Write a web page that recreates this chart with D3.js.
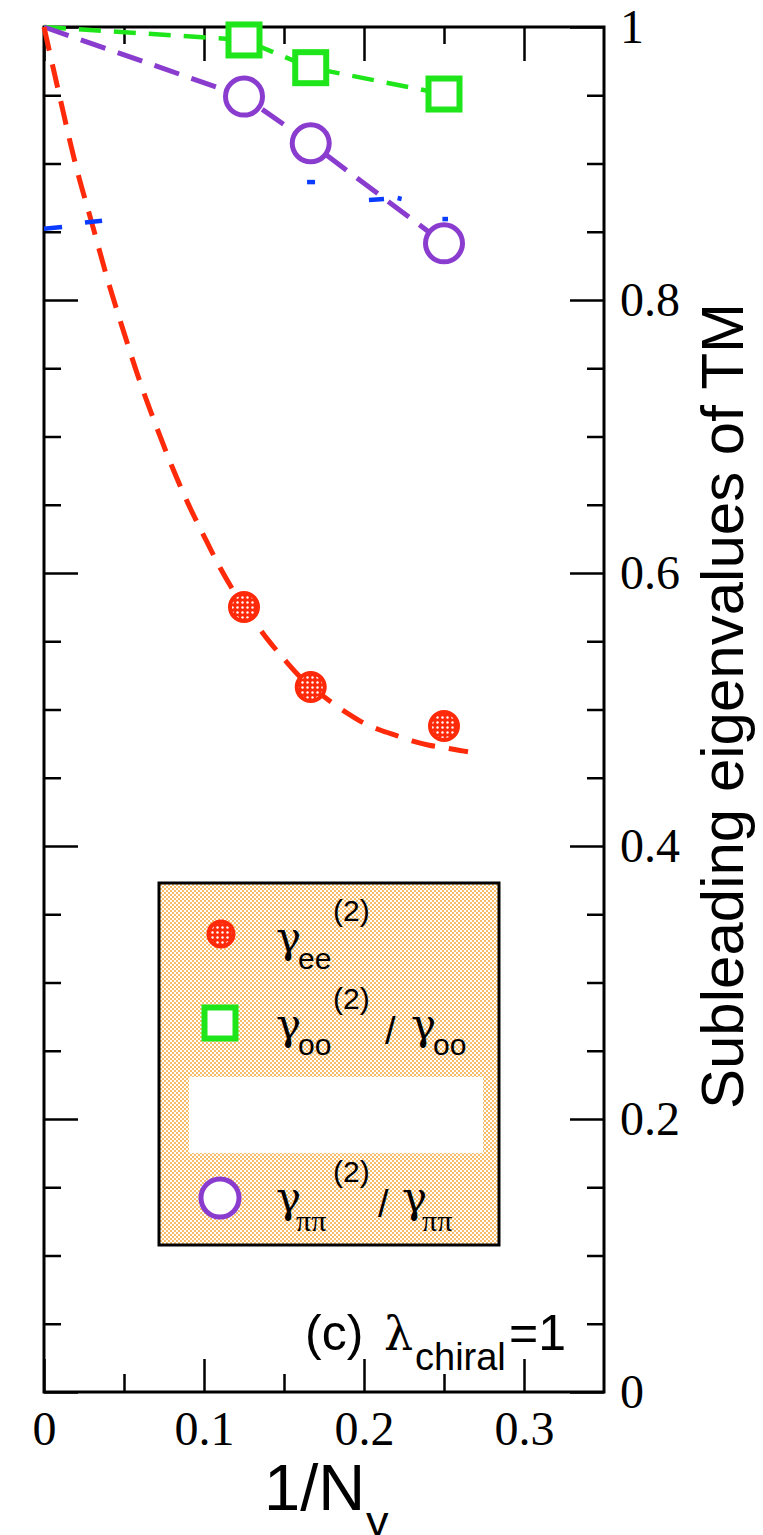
<!DOCTYPE html>
<html>
<head>
<meta charset="utf-8">
<script src="https://cdn.jsdelivr.net/npm/d3@7"></script>
<style>
  html, body { margin: 0; padding: 0; background: #fff; }
  svg { display: block; }
</style>
</head>
<body>
<svg id="chart" width="763" height="1535"></svg>
<script>
// ---------------- data ----------------
const nyInv = [0.125, 0.1667, 0.25];               // 1/N_y of the data points
const gammaEE = [0.5751, 0.5165, 0.4879];          // red filled circles
const gammaOO = [0.9905, 0.9702, 0.9509];          // green squares
const gammaPP = [0.949, 0.9148, 0.8415];           // purple circles

// dashed guide lines (start at 1/N_y = 0, value 1)
const ooLineX = [0, 0.125, 0.1667, 0.25];
const ooLineY = [1, 0.9905, 0.9702, 0.9509];
const ppLineX = [0, 0.125, 0.1667, 0.25];
const ppLineY = [1, 0.949, 0.9148, 0.8415];

// red dashed fit curve
const eeFitX = [0, 0.01, 0.02, 0.03, 0.04, 0.05, 0.06, 0.07, 0.08, 0.09, 0.10, 0.11, 0.12, 0.13,
                0.14, 0.15, 0.16, 0.17, 0.18, 0.19, 0.20, 0.21, 0.22, 0.23, 0.24, 0.25, 0.26, 0.265];
const eeFitY = [1.0, 0.948, 0.898, 0.856, 0.814, 0.776, 0.740, 0.708, 0.678, 0.651, 0.627, 0.604, 0.584, 0.567,
                0.551, 0.537, 0.524, 0.514, 0.505, 0.497, 0.490, 0.485, 0.481, 0.477, 0.474, 0.472, 0.470, 0.469];

// remaining visible pieces of the (masked) blue curve: [x1, y1, x2, y2]
const blueBits = [
  [0.0,    0.8522, 0.0113, 0.8535],
  [0.0256, 0.8568, 0.0363, 0.8581],
  [0.1644, 0.8864, 0.1694, 0.8864],
  [0.2031, 0.8733, 0.2125, 0.8740],
  [0.2210, 0.8747, 0.2235, 0.8740],
  [0.2490, 0.8593, 0.2525, 0.8593]
];

const xMajor = [0, 0.1, 0.2, 0.3];
const xMajorLabels = ["0", "0.1", "0.2", "0.3"];
const xMinor = [0.05, 0.15, 0.25];
const yMajor = [0, 0.2, 0.4, 0.6, 0.8, 1];
const yMajorLabels = ["0", "0.2", "0.4", "0.6", "0.8", "1"];
const yMinor = [0.05, 0.1, 0.15, 0.25, 0.3, 0.35, 0.45, 0.5, 0.55, 0.65, 0.7, 0.75, 0.85, 0.9, 0.95];

// ---------------- drawing ----------------
const svg = d3.select("#chart");
const L = 44, R = 604, T = 27, B = 1392;
const x = d3.scaleLinear().domain([0, 0.35]).range([L, R]);
const y = d3.scaleLinear().domain([0, 1]).range([B, T]);

const RED = "#ff2a0a", GREEN = "#1fe61a", PURPLE = "#8a3ccf", BLUE = "#0a3cff";

const defs = svg.append("defs");
const pRed = defs.append("pattern").attr("id", "redDots").attr("patternUnits", "userSpaceOnUse")
  .attr("width", 5).attr("height", 5);
pRed.append("rect").attr("width", 5).attr("height", 5).attr("fill", RED);
pRed.append("circle").attr("cx", 2.5).attr("cy", 2.5).attr("r", 1.2).attr("fill", "#fff");

const pOr = defs.append("pattern").attr("id", "orDots").attr("patternUnits", "userSpaceOnUse")
  .attr("width", 4).attr("height", 4);
pOr.append("rect").attr("width", 4).attr("height", 4).attr("fill", "#fff");
pOr.append("circle").attr("cx", 1).attr("cy", 1).attr("r", 0.95).attr("fill", "#f5a02a");
pOr.append("circle").attr("cx", 3).attr("cy", 3).attr("r", 0.95).attr("fill", "#f5a02a");

// axes (ticks inward on all four sides)
function styleAxis(g) {
  g.select(".domain").remove();
  g.selectAll(".tick line").attr("stroke", "#000").attr("stroke-width", 2.5);
  g.selectAll("text").attr("fill", "#000").attr("font-family", "'Liberation Serif', 'Times New Roman', serif").attr("font-size", 48);
}
svg.append("g").attr("transform", `translate(0,${B})`)
  .call(d3.axisBottom(x).tickValues(xMajor).tickSize(-33).tickPadding(19).tickFormat((d, i) => xMajorLabels[i]))
  .call(styleAxis);
svg.append("g").attr("transform", `translate(0,${B})`)
  .call(d3.axisBottom(x).tickValues(xMinor).tickSize(-18).tickFormat(""))
  .call(styleAxis);
svg.append("g").attr("transform", `translate(0,${T})`)
  .call(d3.axisTop(x).tickValues(xMajor).tickSize(-34).tickFormat(""))
  .call(styleAxis);
svg.append("g").attr("transform", `translate(0,${T})`)
  .call(d3.axisTop(x).tickValues(xMinor).tickSize(-17).tickFormat(""))
  .call(styleAxis);
svg.append("g").attr("transform", `translate(${R},0)`)
  .call(d3.axisRight(y).tickValues(yMajor).tickSize(-34).tickPadding(16).tickFormat((d, i) => yMajorLabels[i]))
  .call(styleAxis);
svg.append("g").attr("transform", `translate(${R},0)`)
  .call(d3.axisRight(y).tickValues(yMinor).tickSize(-17).tickFormat(""))
  .call(styleAxis);
svg.append("g").attr("transform", `translate(${L},0)`)
  .call(d3.axisLeft(y).tickValues(yMajor).tickSize(-34).tickFormat(""))
  .call(styleAxis);
svg.append("g").attr("transform", `translate(${L},0)`)
  .call(d3.axisLeft(y).tickValues(yMinor).tickSize(-17).tickFormat(""))
  .call(styleAxis);

svg.append("rect").attr("x", L).attr("y", T).attr("width", R - L).attr("height", B - T)
  .attr("fill", "none").attr("stroke", "#000").attr("stroke-width", 3);

// lines
const line = d3.line().x(d => x(d[0])).y(d => y(d[1]));
const linesG = svg.append("g");
linesG.append("path").datum(ooLineX.map((v, i) => [v, ooLineY[i]]))
  .attr("d", line).attr("fill", "none").attr("stroke", GREEN).attr("stroke-width", 4.5)
  .attr("stroke-dasharray", "22,13");
linesG.append("path").datum(ppLineX.map((v, i) => [v, ppLineY[i]]))
  .attr("d", line).attr("fill", "none").attr("stroke", PURPLE).attr("stroke-width", 5)
  .attr("stroke-dasharray", "26,13");
linesG.append("path").datum(eeFitX.map((v, i) => [v, eeFitY[i]]))
  .attr("d", d3.line().curve(d3.curveMonotoneX).x(d => x(d[0])).y(d => y(d[1])))
  .attr("fill", "none").attr("stroke", RED).attr("stroke-width", 5)
  .attr("stroke-dasharray", "24,14");
linesG.selectAll("line.blue").data(blueBits).join("line").attr("class", "blue")
  .attr("x1", d => x(d[0])).attr("y1", d => y(d[1]))
  .attr("x2", d => x(d[2])).attr("y2", d => y(d[3]))
  .attr("stroke", BLUE).attr("stroke-width", 4.5);

// markers
const mk = svg.append("g");
mk.selectAll("rect.oo").data(nyInv).join("rect").attr("class", "oo")
  .attr("x", (d) => x(d) - 15.5).attr("y", (d, i) => y(gammaOO[i]) - 15.5)
  .attr("width", 31).attr("height", 31)
  .attr("fill", "#fff").attr("stroke", GREEN).attr("stroke-width", 6);
mk.selectAll("circle.pp").data(nyInv).join("circle").attr("class", "pp")
  .attr("cx", d => x(d)).attr("cy", (d, i) => y(gammaPP[i])).attr("r", 18.5)
  .attr("fill", "#fff").attr("stroke", PURPLE).attr("stroke-width", 5);
mk.selectAll("circle.ee").data(nyInv).join("circle").attr("class", "ee")
  .attr("cx", d => x(d)).attr("cy", (d, i) => y(gammaEE[i])).attr("r", 14)
  .attr("fill", "url(#redDots)").attr("stroke", RED).attr("stroke-width", 4);

// legend
const lg = svg.append("g");
lg.append("rect").attr("x", 159).attr("y", 883).attr("width", 340).attr("height", 362)
  .attr("fill", "url(#orDots)").attr("stroke", "#000").attr("stroke-width", 3);
lg.append("rect").attr("x", 189).attr("y", 1077).attr("width", 294).attr("height", 76).attr("fill", "#fff");

lg.append("circle").attr("cx", 221).attr("cy", 934).attr("r", 12.5)
  .attr("fill", "url(#redDots)").attr("stroke", RED).attr("stroke-width", 4);
lg.append("rect").attr("x", 204.5).attr("y", 1007.5).attr("width", 31).attr("height", 31)
  .attr("fill", "#fff").attr("stroke", GREEN).attr("stroke-width", 6);
lg.append("circle").attr("cx", 220).attr("cy", 1198).attr("r", 19)
  .attr("fill", "#fff").attr("stroke", PURPLE).attr("stroke-width", 5);

const SERIF = "'Liberation Serif', 'Times New Roman', serif";
const GREEK = "'DejaVu Serif', 'Liberation Serif', serif";
const SANS = "'Liberation Sans', Arial, sans-serif";
function txt(t, px, py, size, fam) {
  return svg.append("text").attr("x", px).attr("y", py).attr("font-size", size)
    .attr("font-family", fam).attr("fill", "#000").text(t);
}
// row 1
txt("γ", 276, 952, 42, GREEK);
txt("ee", 298, 969, 30, SANS);
txt("(2)", 333, 921, 30, SANS);
// row 2
txt("γ", 276, 1039, 42, GREEK);
txt("oo", 298, 1055, 30, SANS);
txt("(2)", 333, 1009, 30, SANS);
txt("/", 385, 1044, 38, SANS);
txt("γ", 411, 1039, 42, GREEK);
txt("oo", 433, 1055, 30, SANS);
// row 4
txt("γ", 276, 1212, 42, GREEK);
txt("ππ", 296, 1231, 30, SERIF);
txt("(2)", 333, 1182, 30, SANS);
txt("/", 378, 1217, 38, SANS);
txt("γ", 402, 1212, 42, GREEK);
txt("ππ", 422, 1231, 30, SERIF);

// panel label
txt("(c)", 305, 1350, 50, SANS);
txt("λ", 384, 1350, 46, GREEK);
txt("chiral", 415, 1370, 38, SANS);
txt("=1", 509, 1350, 50, SANS);

// axis titles
txt("1/N", 264, 1510, 65, SANS);
txt("y", 366, 1537, 45, SANS);
svg.append("text").attr("transform", "translate(743,706) rotate(-90)")
  .attr("text-anchor", "middle").attr("font-size", 60).attr("font-family", SANS)
  .attr("fill", "#000").text("Subleading eigenvalues of TM");
</script>
</body>
</html>
